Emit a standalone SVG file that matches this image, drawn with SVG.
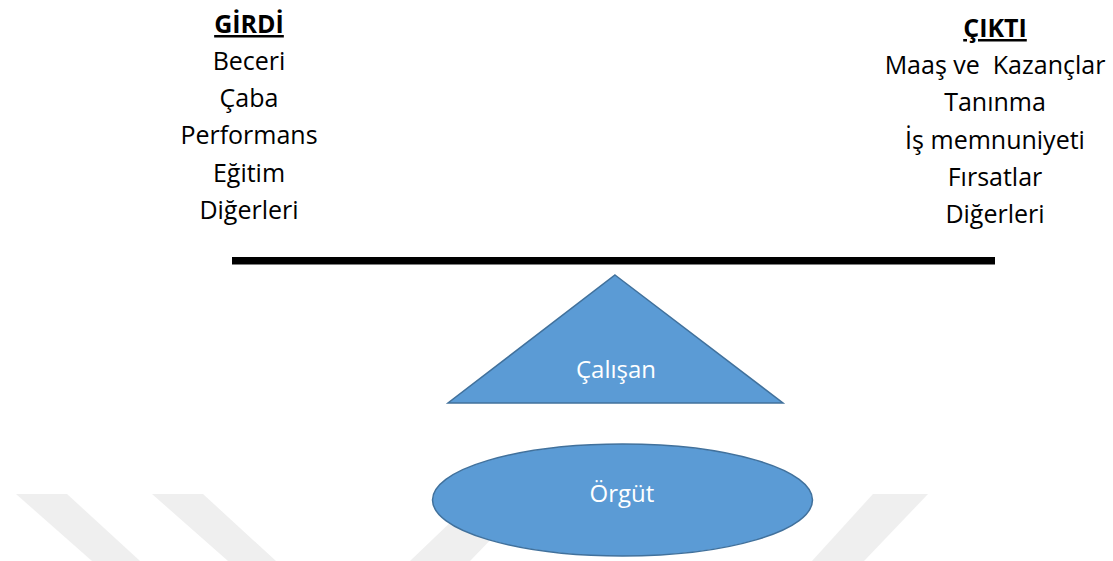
<svg xmlns="http://www.w3.org/2000/svg" width="1113" height="561" viewBox="0 0 1113 561">
  <style>
    .lbl { font-family: "Open Sans", "Noto Sans", "Liberation Sans", sans-serif; font-size: 25px; fill: #000; text-anchor: middle; }
    .hd { font-weight: bold; text-decoration: underline; }
    .shape { fill: #5B9BD5; stroke: #41719C; stroke-width: 1.5; }
    .in { font-family: "Open Sans", "Noto Sans", "Liberation Sans", sans-serif; font-size: 24px; fill: #fff; text-anchor: middle; }
    .wm { fill: #efefef; }
  </style>
  <rect width="1113" height="561" fill="#fff"/>

  <!-- faint background bands -->
  <g id="bands">
    <polygon class="wm" points="16,494 67,494 140,561 92,561"/>
    <polygon class="wm" points="152,494 203,494 276,561 228,561"/>
    <polygon class="wm" points="480,494 535,494 470,561 410,561"/>
    <polygon class="wm" points="873,494 928,494 864,561 812,561"/>
  </g>

  <!-- input list -->
  <g id="girdi">
    <text class="lbl hd" x="249" y="33">GİRDİ</text>
    <text class="lbl" x="249" y="70">Beceri</text>
    <text class="lbl" x="249" y="107">Çaba</text>
    <text class="lbl" x="249" y="144">Performans</text>
    <text class="lbl" x="249" y="182">Eğitim</text>
    <text class="lbl" x="249" y="219">Diğerleri</text>
  </g>

  <!-- output list -->
  <g id="cikti">
    <text class="lbl hd" x="995" y="37">ÇIKTI</text>
    <text class="lbl" x="995" y="74" xml:space="preserve" style="white-space:pre">Maaş ve  Kazançlar</text>
    <text class="lbl" x="995" y="111">Tanınma</text>
    <text class="lbl" x="995" y="149">İş memnuniyeti</text>
    <text class="lbl" x="995" y="186">Fırsatlar</text>
    <text class="lbl" x="995" y="223">Diğerleri</text>
  </g>

  <!-- balance beam -->
  <g id="beam">
    <rect x="232" y="257" width="763" height="7.5" fill="#000"/>
  </g>

  <!-- fulcrum -->
  <g id="calisan">
    <polygon class="shape" points="615,275 783,403 448,403"/>
    <text class="in" x="616" y="378">Çalışan</text>
  </g>

  <!-- base -->
  <g id="orgut">
    <ellipse class="shape" cx="622.5" cy="500" rx="190" ry="56"/>
    <text class="in" x="622" y="502">Örgüt</text>
  </g>
</svg>
